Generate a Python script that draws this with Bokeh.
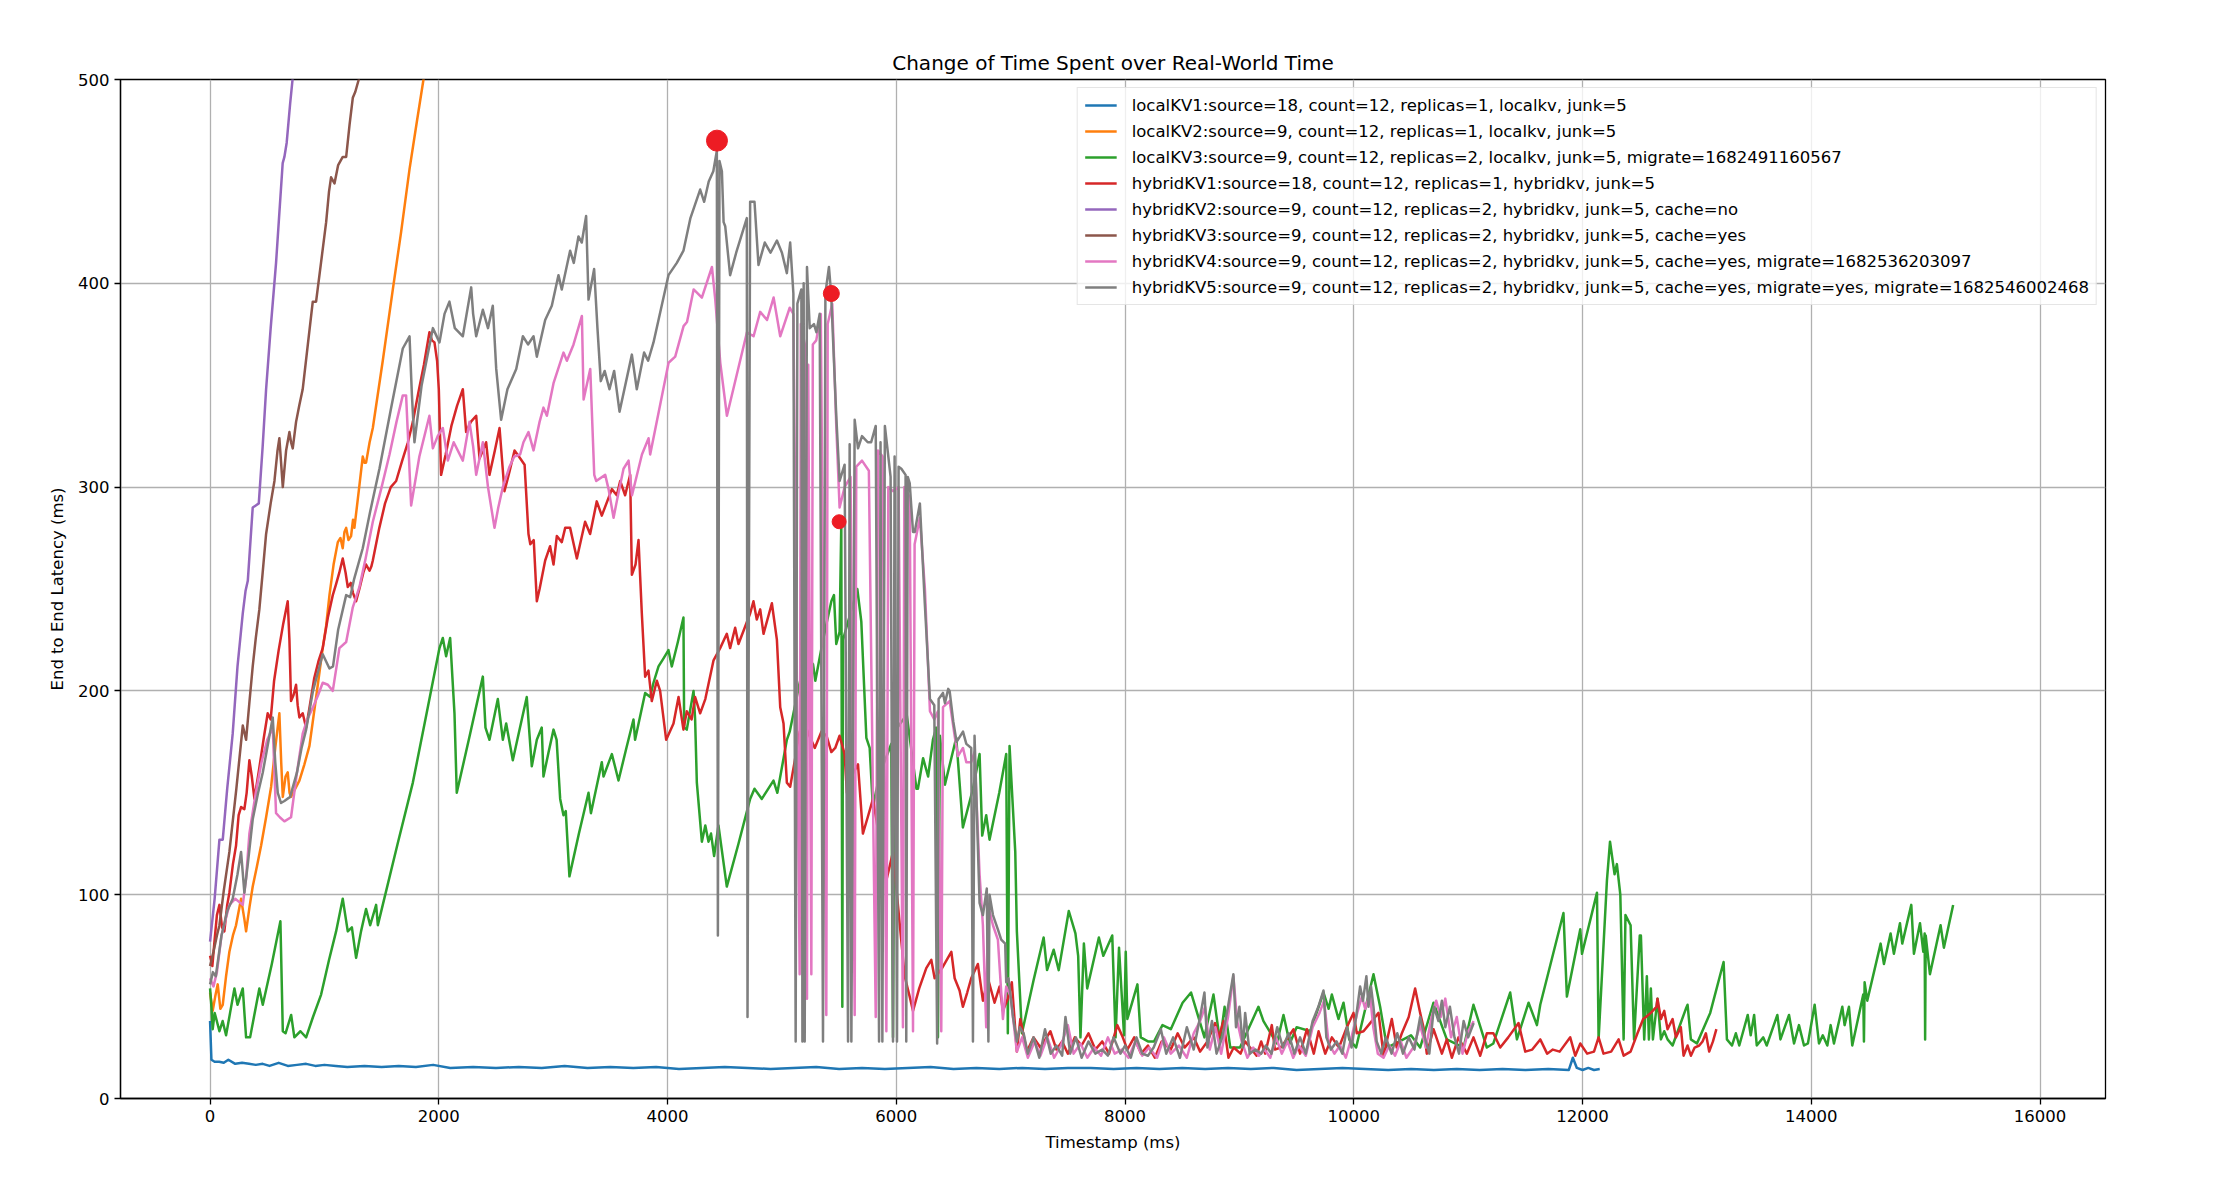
'''
End to end latency of the kv runs over real-world time (Bokeh).
'''
from bokeh.plotting import figure
from bokeh.models import Legend, LegendItem
from bokeh.embed import file_html
from bokeh.resources import INLINE


# (timestamp ms, latency ms)
local_kv1 = [
	(0, 38), (12, 19), (40, 18), (80, 18), (120, 17.5), (160, 19), (220, 17), (280, 17.5),
	(340, 17), (400, 16.5), (460, 17), (520, 16), (600, 17.5), (680, 16), (760, 16.5),
	(840, 17), (920, 16), (1000, 16.5), (1100, 16), (1200, 15.5), (1350, 16), (1500, 15.5),
	(1650, 16), (1800, 15.5), (1950, 16.5), (2100, 15), (2300, 15.5), (2500, 15), (2700, 15.5),
	(2900, 15), (3100, 16), (3300, 15), (3500, 15.5), (3700, 15), (3900, 15.5), (4100, 14.5),
	(4300, 15), (4500, 15.5), (4700, 15), (4900, 14.5), (5100, 15), (5300, 15.5), (5500, 14.5),
	(5700, 15), (5900, 14.5), (6100, 15), (6300, 15.5), (6500, 14.5), (6700, 15), (6900, 14.5),
	(7100, 15), (7300, 14.5), (7500, 15), (7700, 15), (7900, 14.5), (8100, 15), (8300, 14.5),
	(8500, 15), (8700, 14.5), (8900, 15), (9100, 14.5), (9300, 15), (9500, 14), (9700, 14.5),
	(9900, 15), (10100, 14.5), (10300, 14), (10500, 14.5), (10700, 14), (10900, 14.5),
	(11100, 14), (11300, 14.5), (11500, 14), (11700, 14.5), (11880, 14), (11915, 20),
	(11950, 15), (12000, 14), (12050, 15), (12100, 14), (12150, 14.5),
]

local_kv2 = [
	(0, 52), (23, 43), (45, 50), (67, 56), (90, 44), (111, 46), (140, 60), (169, 72), (200, 80),
	(227, 85), (271, 98), (300, 88), (315, 82), (345, 94), (373, 104), (410, 114), (446, 124),
	(490, 138), (534, 153), (570, 172), (606, 189), (622, 165), (636, 148), (660, 158), (679, 160),
	(695, 150), (708, 148), (745, 152), (781, 156), (825, 164), (869, 173), (930, 198), (985, 221),
	(1015, 232), (1044, 247), (1080, 262), (1117, 273), (1140, 275), (1160, 270), (1175, 278),
	(1190, 280), (1210, 274), (1233, 276), (1250, 284), (1262, 280), (1300, 298), (1335, 315),
	(1350, 312), (1364, 312), (1395, 322), (1423, 329), (1510, 362), (1598, 397), (1670, 425),
	(1744, 456), (1810, 480), (1866, 500), (1900, 512),
]

local_kv3 = [
	(0, 54), (12, 45), (23, 34), (40, 42), (50, 40), (82, 33), (110, 38), (140, 31), (175, 42),
	(213, 54), (240, 46), (286, 54), (315, 30), (350, 30), (431, 54), (461, 46), (540, 66),
	(615, 87), (636, 33), (660, 32), (709, 41), (737, 30), (790, 33), (840, 30), (900, 40),
	(971, 51), (1040, 68), (1102, 82), (1160, 98), (1204, 82), (1240, 84), (1277, 69), (1320, 82),
	(1364, 93), (1400, 85), (1452, 95), (1467, 85), (1510, 95), (1640, 125), (1773, 155),
	(1890, 188), (2006, 221), (2035, 226), (2064, 217), (2099, 226), (2137, 189), (2157, 150),
	(2270, 178), (2385, 207), (2408, 182), (2443, 176), (2516, 196), (2560, 176), (2589, 184),
	(2647, 166), (2710, 182), (2769, 197), (2813, 163), (2857, 176), (2900, 182), (2915, 158),
	(2960, 170), (3003, 181), (3030, 176), (3061, 147), (3090, 139), (3110, 141), (3142, 109),
	(3225, 130), (3309, 150), (3330, 140), (3425, 165), (3440, 158), (3513, 169), (3540, 163),
	(3571, 156), (3640, 172), (3702, 186), (3716, 176), (3804, 199), (3848, 197), (3877, 204),
	(3921, 212), (3965, 216), (4008, 220), (4037, 212), (4090, 224), (4139, 236), (4145, 182),
	(4168, 181), (4227, 200), (4241, 186), (4256, 155), (4300, 126), (4330, 134), (4358, 126),
	(4380, 130), (4407, 119), (4445, 134), (4518, 104), (4620, 125), (4722, 147), (4760, 152),
	(4824, 147), (4926, 156), (4960, 150), (5043, 176), (5068, 180), (5155, 204), (5213, 217),
	(5272, 213), (5292, 205), (5359, 225), (5432, 244), (5455, 247), (5475, 223), (5504, 229),
	(5519, 282), (5528, 45), (5534, 225), (5563, 231), (5659, 250), (5694, 234), (5738, 177),
	(5767, 172), (5795, 143), (5850, 158), (5942, 172), (5956, 174), (5971, 30), (5985, 180),
	(6073, 187), (6087, 190), (6176, 152), (6189, 152), (6234, 167), (6278, 158), (6320, 176),
	(6349, 182), (6364, 30), (6381, 178), (6425, 154), (6524, 177), (6582, 133), (6670, 152),
	(6728, 169), (6751, 129), (6786, 139), (6815, 127), (6900, 150), (6961, 169), (6975, 32),
	(6990, 173), (7040, 121), (7054, 82), (7098, 32), (7200, 58), (7288, 79), (7318, 63),
	(7376, 73), (7420, 63), (7508, 92), (7566, 81), (7590, 70), (7610, 30), (7640, 76),
	(7669, 54), (7771, 79), (7810, 70), (7888, 80), (7917, 30), (7947, 74), (7991, 31),
	(8006, 72), (8020, 39), (8108, 56), (8137, 30), (8200, 28), (8254, 28), (8327, 36),
	(8400, 34), (8503, 47), (8577, 52), (8694, 30), (8773, 51), (8830, 28), (8870, 45),
	(8920, 25), (9005, 25), (9166, 45), (9210, 38), (9327, 27), (9385, 41), (9440, 27),
	(9500, 35), (9620, 33), (9735, 52), (9780, 44), (9808, 51), (9866, 39), (9910, 47),
	(9960, 29), (10020, 25), (10172, 61), (10230, 45), (10290, 25), (10400, 28), (10500, 31),
	(10580, 25), (10697, 47), (10813, 29), (10960, 25), (11046, 46), (11163, 25), (11220, 27),
	(11367, 52), (11426, 29), (11528, 47), (11601, 36), (11630, 46), (11833, 91), (11863, 50),
	(11980, 83), (11995, 71), (12126, 101), (12140, 29), (12213, 107), (12240, 126),
	(12280, 110), (12300, 115), (12330, 100), (12359, 29), (12375, 90), (12420, 85),
	(12450, 29), (12500, 80), (12510, 80), (12539, 29), (12562, 60), (12580, 29), (12597, 54),
	(12615, 29), (12655, 49), (12685, 29), (12714, 33), (12743, 29), (12787, 26), (12903, 44),
	(12918, 46), (12947, 29), (13000, 27), (13116, 42), (13233, 67), (13262, 29), (13306, 26),
	(13340, 32), (13370, 26), (13444, 41), (13470, 31), (13500, 41), (13523, 26), (13580, 30),
	(13610, 26), (13703, 41), (13730, 29), (13805, 41), (13849, 27), (13892, 36), (13936, 26),
	(13970, 27), (14029, 46), (14067, 27), (14100, 31), (14140, 26), (14169, 36), (14198, 27),
	(14271, 45), (14291, 36), (14329, 45), (14358, 26), (14454, 51), (14460, 28), (14466, 57),
	(14489, 48), (14606, 76), (14635, 66), (14693, 81), (14722, 71), (14775, 86), (14795, 76),
	(14874, 95), (14897, 71), (14950, 86), (14979, 72), (14991, 81), (14995, 29), (15000, 80),
	(15037, 61), (15130, 85), (15159, 74), (15240, 95),
]

hybrid_kv1 = [
	(0, 70), (20, 65), (40, 78), (60, 90), (82, 95), (105, 84), (125, 82), (150, 95), (169, 101),
	(200, 115), (227, 124), (250, 139), (271, 143), (300, 142), (320, 150), (344, 166), (365, 158),
	(388, 147), (430, 162), (470, 177), (504, 189), (530, 186), (560, 205), (600, 220), (640, 233),
	(679, 244), (694, 225), (708, 195), (730, 198), (752, 203), (766, 193), (781, 187), (810, 189),
	(840, 182), (870, 192), (910, 206), (950, 215), (985, 221), (1030, 236), (1073, 247),
	(1100, 252), (1130, 258), (1160, 265), (1185, 258), (1204, 251), (1230, 253), (1250, 248),
	(1277, 244), (1310, 251), (1340, 258), (1364, 262), (1394, 259), (1410, 261), (1423, 264),
	(1480, 280), (1530, 292), (1580, 300), (1627, 303), (1680, 313), (1730, 322), (1773, 332),
	(1820, 346), (1870, 360), (1918, 376), (1940, 372), (1962, 371), (1985, 362), (2000, 348),
	(2020, 306), (2060, 316), (2110, 330), (2160, 340), (2210, 348), (2239, 327), (2280, 332),
	(2327, 335), (2356, 314), (2385, 318), (2414, 322), (2443, 306), (2490, 318), (2531, 329),
	(2574, 298), (2620, 308), (2662, 318), (2700, 315), (2750, 311), (2784, 277), (2800, 272),
	(2830, 274), (2857, 244), (2881, 250), (2930, 264), (2973, 271), (3003, 262), (3032, 276),
	(3075, 273), (3105, 280), (3148, 280), (3207, 265), (3279, 283), (3323, 277), (3381, 293),
	(3425, 286), (3513, 299), (3556, 296), (3586, 303), (3629, 296), (3673, 306), (3688, 257),
	(3720, 262), (3746, 274), (3775, 238), (3804, 207), (3833, 210), (3862, 195), (3906, 205),
	(3935, 200), (3988, 176), (4052, 184), (4096, 197), (4139, 181), (4168, 190), (4210, 186),
	(4241, 197), (4285, 189), (4330, 196), (4402, 215), (4460, 221), (4518, 228), (4547, 221),
	(4591, 231), (4620, 223), (4722, 238), (4751, 244), (4780, 235), (4810, 240), (4839, 228),
	(4912, 243), (4956, 225), (4985, 192), (5014, 184), (5043, 155), (5072, 153), (5110, 165),
	(5155, 180), (5213, 182), (5240, 178), (5287, 172), (5345, 180), (5390, 178), (5432, 170),
	(5466, 172), (5504, 178), (5548, 169), (5568, 150), (5610, 158), (5665, 164), (5708, 130),
	(5750, 138), (5796, 147), (5850, 128), (5913, 107), (5971, 121), (6029, 86), (6073, 60),
	(6117, 50), (6146, 43), (6200, 54), (6262, 64), (6306, 68), (6335, 59), (6400, 64),
	(6481, 72), (6510, 59), (6553, 53), (6582, 45), (6620, 52), (6655, 59), (6713, 66),
	(6757, 48), (6801, 59), (6859, 47), (6903, 55), (6932, 43), (6975, 49), (7010, 57),
	(7054, 23), (7084, 39), (7142, 23), (7200, 30), (7260, 25), (7347, 33), (7400, 24),
	(7450, 28), (7500, 22), (7560, 30), (7620, 26), (7680, 32), (7740, 24), (7800, 28),
	(7860, 22), (7932, 36), (7980, 30), (8020, 24), (8080, 30), (8140, 22), (8200, 26),
	(8260, 20), (8320, 28), (8400, 24), (8460, 32), (8520, 25), (8600, 30), (8656, 23),
	(8720, 28), (8787, 37), (8820, 30), (8860, 38), (8904, 20), (8950, 25), (9010, 22),
	(9050, 28), (9093, 25), (9150, 21), (9190, 28), (9225, 22), (9283, 36), (9310, 24),
	(9360, 25), (9400, 28), (9473, 34), (9530, 22), (9590, 34), (9650, 22), (9692, 33),
	(9750, 22), (9808, 30), (9870, 25), (9939, 35), (9997, 42), (10026, 32), (10085, 33),
	(10143, 37), (10216, 42), (10260, 21), (10332, 39), (10375, 25), (10420, 32), (10480, 40),
	(10536, 54), (10580, 42), (10609, 35), (10638, 22), (10697, 34), (10770, 22), (10813, 29),
	(10857, 20), (10915, 30), (10988, 22), (11046, 30), (11105, 21), (11163, 32), (11220, 32),
	(11280, 25), (11350, 30), (11440, 37), (11499, 23), (11560, 24), (11630, 29), (11690, 22),
	(11740, 24), (11800, 23), (11892, 30), (11936, 21), (11980, 27), (12040, 22), (12100, 23),
	(12140, 30), (12183, 22), (12250, 23), (12315, 29), (12359, 21), (12420, 23), (12480, 32),
	(12530, 39), (12554, 40), (12597, 42), (12646, 45), (12655, 49), (12685, 39), (12714, 43),
	(12743, 34), (12787, 39), (12816, 30), (12859, 35), (12883, 21), (12918, 26), (12947, 21),
	(12980, 25), (13020, 26), (13049, 28), (13078, 32), (13107, 23), (13140, 28), (13170, 34),
]

hybrid_kv2 = [
	(0, 77), (40, 98), (82, 127), (111, 127), (150, 152), (198, 179), (240, 212), (286, 238),
	(310, 249), (330, 254), (373, 290), (400, 291), (426, 292), (460, 320), (490, 348),
	(530, 378), (577, 410), (610, 438), (635, 459), (650, 462), (670, 469), (700, 488),
	(723, 501), (740, 510),
]

hybrid_kv3 = [
	(0, 65), (30, 72), (60, 80), (82, 85), (120, 102), (169, 121), (230, 152), (286, 183),
	(315, 176), (345, 195), (373, 212), (400, 226), (431, 240), (460, 258), (490, 277),
	(530, 292), (563, 303), (590, 318), (606, 324), (636, 300), (665, 318), (694, 327),
	(708, 322), (723, 319), (752, 332), (780, 340), (810, 348), (855, 370), (898, 391),
	(927, 391), (970, 410), (1015, 430), (1040, 445), (1058, 452), (1088, 449), (1120, 458),
	(1160, 462), (1190, 462), (1220, 478), (1248, 491), (1270, 494), (1300, 500), (1320, 508),
]

hybrid_kv4 = [
	(0, 59), (30, 55), (60, 62), (100, 80), (169, 95), (220, 98), (286, 95), (315, 108),
	(344, 130), (400, 150), (450, 165), (500, 176), (548, 182), (563, 160), (577, 140),
	(610, 138), (650, 136), (708, 138), (760, 160), (810, 179), (850, 186), (900, 192),
	(945, 198), (985, 204), (1030, 203), (1073, 200), (1131, 221), (1190, 224), (1248, 241),
	(1306, 251), (1360, 265), (1423, 283), (1500, 300), (1569, 316), (1630, 332), (1685, 345),
	(1714, 345), (1758, 291), (1830, 315), (1918, 335), (1948, 319), (1990, 325), (2035, 329),
	(2079, 313), (2130, 322), (2210, 313), (2268, 332), (2300, 320), (2327, 306), (2385, 322),
	(2430, 300), (2487, 280), (2520, 290), (2560, 300), (2618, 310), (2660, 315), (2711, 316),
	(2740, 322), (2784, 327), (2828, 318), (2881, 332), (2915, 339), (2945, 335), (3003, 351),
	(3090, 366), (3120, 362), (3178, 370), (3251, 384), (3266, 343), (3324, 358), (3359, 306),
	(3376, 303), (3455, 306), (3484, 299), (3528, 285), (3556, 293), (3615, 309), (3659, 313),
	(3689, 296), (3776, 316), (3834, 324), (3848, 316), (4009, 361), (4067, 364), (4140, 379),
	(4170, 381), (4228, 397), (4300, 393), (4388, 408), (4417, 392), (4461, 361), (4519, 335),
	(4694, 376), (4752, 374), (4810, 386), (4870, 382), (4927, 393), (4985, 374), (5068, 388),
	(5100, 385), (5155, 61), (5165, 380), (5200, 370), (5219, 49), (5230, 360), (5257, 61),
	(5270, 370), (5300, 372), (5340, 385), (5388, 41), (5400, 380), (5440, 390), (5475, 330),
	(5504, 290), (5548, 300), (5600, 305), (5636, 41), (5650, 310), (5700, 313), (5760, 308),
	(5820, 40), (5840, 318), (5880, 315), (5913, 33), (5930, 300), (5971, 298), (6020, 300),
	(6058, 35), (6070, 300), (6117, 295), (6146, 33), (6160, 272), (6206, 285), (6250, 250),
	(6294, 190), (6332, 186), (6364, 190), (6393, 33), (6408, 192), (6466, 195), (6510, 178),
	(6539, 168), (6583, 172), (6612, 165), (6655, 165), (6684, 170), (6728, 110), (6757, 85),
	(6786, 35), (6801, 95), (6845, 85), (6888, 78), (6932, 39), (6961, 55), (7000, 50),
	(7054, 23), (7100, 30), (7150, 20), (7210, 28), (7260, 21), (7320, 30), (7380, 20),
	(7440, 26), (7500, 36), (7550, 22), (7610, 27), (7670, 20), (7730, 25), (7790, 21),
	(7850, 30), (7910, 22), (7970, 24), (8030, 20), (8090, 28), (8150, 21), (8210, 25),
	(8280, 20), (8340, 30), (8400, 22), (8470, 26), (8540, 20), (8600, 32), (8656, 38),
	(8700, 45), (8740, 24), (8790, 35), (8840, 22), (8900, 40), (8947, 60), (8980, 38),
	(9020, 28), (9070, 20), (9120, 25), (9170, 21), (9220, 24), (9270, 20), (9320, 30),
	(9370, 22), (9420, 28), (9470, 20), (9520, 26), (9580, 21), (9640, 35), (9700, 42),
	(9740, 48), (9780, 27), (9830, 22), (9880, 26), (9930, 20), (9980, 30), (10030, 42),
	(10070, 50), (10100, 44), (10140, 52), (10170, 35), (10210, 22), (10260, 20), (10310, 26),
	(10360, 21), (10410, 28), (10460, 20), (10520, 25), (10580, 36), (10630, 25), (10680, 40),
	(10720, 48), (10760, 40), (10800, 49), (10850, 30), (10900, 40), (10950, 22), (11000, 33),
	(11048, 38),
]

hybrid_kv5 = [
	(0, 56), (25, 62), (50, 60), (100, 80), (150, 92), (198, 98), (240, 110), (271, 121),
	(300, 101), (330, 115), (373, 137), (420, 150), (461, 160), (500, 172), (548, 187),
	(570, 165), (592, 150), (620, 145), (650, 146), (700, 148), (760, 160), (800, 172),
	(840, 181), (900, 200), (985, 218), (1044, 211), (1075, 212), (1120, 230), (1190, 247),
	(1225, 246), (1260, 255), (1335, 270), (1400, 288), (1481, 309), (1580, 338), (1685, 368),
	(1744, 374), (1765, 345), (1787, 322), (1850, 350), (1948, 378), (2006, 371), (2050, 385),
	(2093, 391), (2140, 378), (2210, 374), (2283, 398), (2300, 385), (2327, 374), (2385, 387),
	(2430, 378), (2472, 389), (2502, 358), (2545, 333), (2600, 348), (2677, 358), (2735, 374),
	(2780, 370), (2828, 374), (2857, 364), (2930, 382), (2988, 389), (3046, 404), (3075, 397),
	(3148, 416), (3180, 410), (3221, 423), (3250, 420), (3288, 433), (3309, 392), (3358, 407),
	(3387, 378), (3416, 352), (3450, 357), (3492, 348), (3533, 357), (3580, 337), (3688, 365),
	(3731, 348), (3795, 366), (3830, 362), (3877, 371), (4008, 404), (4081, 410), (4139, 416),
	(4200, 432), (4285, 446), (4320, 440), (4360, 450), (4400, 455), (4431, 465), (4440, 80),
	(4454, 460), (4475, 455), (4490, 430), (4504, 428), (4547, 404), (4600, 415), (4693, 432),
	(4699, 40), (4722, 440), (4760, 440), (4795, 409), (4850, 420), (4900, 415), (4956, 421),
	(5000, 415), (5043, 405), (5072, 420), (5100, 395), (5120, 28), (5135, 390), (5170, 397),
	(5179, 28), (5190, 400), (5199, 28), (5219, 408), (5243, 378), (5280, 380), (5301, 376),
	(5330, 385), (5359, 28), (5380, 395), (5411, 408), (5430, 395), (5475, 335), (5504, 303),
	(5548, 311), (5578, 28), (5592, 321), (5607, 28), (5636, 333), (5665, 319), (5700, 325),
	(5750, 322), (5780, 322), (5820, 330), (5849, 28), (5862, 322), (5878, 28), (5900, 330),
	(5950, 305), (5971, 28), (5985, 315), (6006, 28), (6020, 310), (6044, 309), (6081, 306),
	(6087, 28), (6100, 305), (6117, 302), (6146, 278), (6161, 278), (6206, 292), (6249, 243),
	(6294, 196), (6332, 193), (6357, 27), (6370, 196), (6408, 199), (6425, 194), (6454, 201),
	(6466, 200), (6498, 185), (6527, 175), (6583, 180), (6612, 174), (6655, 172), (6670, 28),
	(6684, 178), (6728, 96), (6757, 90), (6791, 103), (6805, 28), (6815, 100), (6845, 90),
	(6888, 83), (6917, 78), (6952, 76), (6961, 57), (6981, 59), (7020, 40), (7054, 28),
	(7080, 35), (7113, 32), (7150, 22), (7200, 30), (7250, 20), (7300, 34), (7350, 22),
	(7400, 26), (7450, 21), (7479, 40), (7520, 22), (7570, 30), (7620, 20), (7680, 28),
	(7740, 22), (7800, 24), (7850, 21), (7900, 30), (7960, 22), (8000, 26), (8050, 20),
	(8100, 30), (8150, 22), (8200, 21), (8250, 25), (8313, 34), (8360, 22), (8420, 30),
	(8480, 20), (8540, 35), (8600, 24), (8656, 40), (8694, 52), (8720, 25), (8760, 38),
	(8800, 22), (8850, 30), (8900, 45), (8947, 61), (8970, 35), (9000, 45), (9030, 25),
	(9050, 42), (9090, 22), (9140, 24), (9190, 22), (9230, 26), (9280, 22), (9330, 35),
	(9380, 25), (9430, 32), (9480, 22), (9530, 30), (9580, 22), (9640, 38), (9690, 45),
	(9735, 53), (9760, 30), (9800, 24), (9850, 28), (9900, 22), (9940, 35), (9980, 25),
	(10020, 40), (10055, 55), (10080, 48), (10110, 60), (10128, 45), (10150, 55), (10172, 45),
	(10200, 28), (10240, 22), (10280, 30), (10330, 22), (10380, 32), (10430, 22), (10480, 30),
	(10530, 24), (10580, 40), (10620, 30), (10660, 22), (10700, 45), (10740, 38), (10770, 48),
	(10800, 35), (10840, 45), (10880, 30), (10920, 22), (10960, 38), (11000, 30), (11048, 37),
]

series = [local_kv1, local_kv2, local_kv3, hybrid_kv1, hybrid_kv2, hybrid_kv3, hybrid_kv4, hybrid_kv5]

labels = [
	'localKV1:source=18, count=12, replicas=1, localkv, junk=5',
	'localKV2:source=9, count=12, replicas=1, localkv, junk=5',
	'localKV3:source=9, count=12, replicas=2, localkv, junk=5, migrate=1682491160567',
	'hybridKV1:source=18, count=12, replicas=1, hybridkv, junk=5',
	'hybridKV2:source=9, count=12, replicas=2, hybridkv, junk=5, cache=no',
	'hybridKV3:source=9, count=12, replicas=2, hybridkv, junk=5, cache=yes',
	'hybridKV4:source=9, count=12, replicas=2, hybridkv, junk=5, cache=yes, migrate=1682536203097',
	'hybridKV5:source=9, count=12, replicas=2, hybridkv, junk=5, cache=yes, migrate=yes, migrate=1682546002468',
]

# migration points (timestamp ms, latency ms)
migrate_x = [4432, 5432, 5500]
migrate_y = [470, 395, 283]

x_ticks = [0, 2000, 4000, 6000, 8000, 10000, 12000, 14000, 16000]
y_ticks = [0, 100, 200, 300, 400, 500]

colors = ['#1f77b4', '#ff7f0e', '#2ca02c', '#d62728', '#9467bd', '#8c564b', '#e377c2', '#7f7f7f']
FONT = 'DejaVu Sans'


def graph_data():
	plot = figure(
		title='Change of Time Spent over Real-World Time',
		width=2208, height=1166,
		x_range=(-783, 16572), y_range=(0, 500),
		output_backend='svg', toolbar_location=None,
		min_border_left=120, min_border_right=103,
		min_border_top=79, min_border_bottom=68,
	)
	plot.title.align = 'center'
	plot.title.text_font = FONT
	plot.title.text_font_size = '20px'
	plot.title.text_font_style = 'normal'
	plot.title.text_color = 'black'
	plot.title.standoff = 10

	plot.outline_line_color = 'black'
	plot.outline_line_width = 1.3
	plot.outline_line_alpha = 1

	plot.xaxis.ticker = x_ticks
	plot.yaxis.ticker = y_ticks
	plot.xaxis.axis_label = 'Timestamp (ms)'
	plot.yaxis.axis_label = 'End to End Latency (ms)'
	for ax in (plot.xaxis[0], plot.yaxis[0]):
		ax.axis_line_color = 'black'
		ax.axis_line_width = 1.3
		ax.major_tick_line_color = 'black'
		ax.major_tick_line_width = 1.3
		ax.major_tick_out = 6
		ax.major_tick_in = 0
		ax.minor_tick_line_color = None
		ax.major_label_text_font = FONT
		ax.major_label_text_font_size = '16.5px'
		ax.major_label_text_color = 'black'
		ax.major_label_standoff = 5
		ax.axis_label_text_font = FONT
		ax.axis_label_text_font_size = '16.5px'
		ax.axis_label_text_font_style = 'normal'
		ax.axis_label_text_color = 'black'
		ax.axis_label_standoff = 8

	for grid in (plot.xgrid[0], plot.ygrid[0]):
		grid.grid_line_color = '#b0b0b0'
		grid.grid_line_width = 1.3

	items = []
	for data, label, color in zip(series, labels, colors):
		x = [d[0] for d in data]
		y = [d[1] for d in data]
		r = plot.line(x, y, color=color, line_width=2.5, line_join='round')
		items.append(LegendItem(label=label, renderers=[r]))

	# red markers where the migration kicked in
	plot.scatter(migrate_x, migrate_y, size=[21, 16, 14], color='#ed1c24')

	legend = Legend(items=items, location='top_right')
	legend.label_text_font = FONT
	legend.label_text_font_size = '16.5px'
	legend.label_text_color = 'black'
	legend.glyph_width = 32
	legend.glyph_height = 20
	legend.label_height = 20
	legend.label_standoff = 15
	legend.spacing = 6
	legend.padding = 7
	legend.margin = 8
	legend.border_line_color = '#cccccc'
	legend.border_line_width = 1.3
	legend.background_fill_alpha = 0.8
	plot.add_layout(legend)
	return plot


plot = graph_data()
open('out.html', 'w').write(file_html(plot, INLINE))
